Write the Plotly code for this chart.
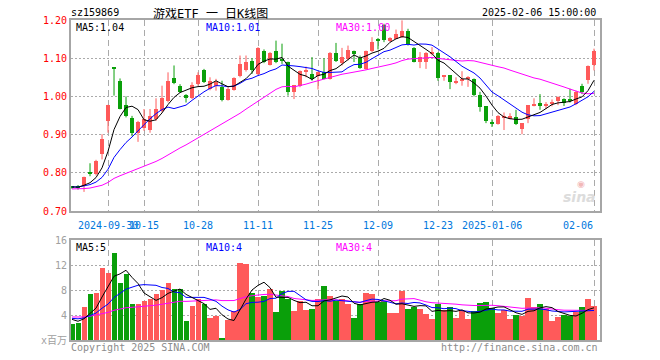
import math
import plotly.graph_objects as go

# ---------------- data ----------------
dates = [
    "2024-09-20", "2024-09-23", "2024-09-24", "2024-09-25", "2024-09-26", "2024-09-27", "2024-09-30",
    "2024-10-08", "2024-10-09", "2024-10-10", "2024-10-11", "2024-10-14", "2024-10-15", "2024-10-16",
    "2024-10-17", "2024-10-18", "2024-10-21", "2024-10-22", "2024-10-23", "2024-10-24", "2024-10-25",
    "2024-10-28", "2024-10-29", "2024-10-30", "2024-10-31", "2024-11-01", "2024-11-04", "2024-11-05",
    "2024-11-06", "2024-11-07", "2024-11-08", "2024-11-11", "2024-11-12", "2024-11-13", "2024-11-14",
    "2024-11-15", "2024-11-18", "2024-11-19", "2024-11-20", "2024-11-21", "2024-11-22", "2024-11-25",
    "2024-11-26", "2024-11-27", "2024-11-28", "2024-11-29", "2024-12-02", "2024-12-03", "2024-12-04",
    "2024-12-05", "2024-12-06", "2024-12-09", "2024-12-10", "2024-12-11", "2024-12-12", "2024-12-13",
    "2024-12-16", "2024-12-17", "2024-12-18", "2024-12-19", "2024-12-20", "2024-12-23", "2024-12-24",
    "2024-12-25", "2024-12-26", "2024-12-27", "2024-12-30", "2024-12-31", "2025-01-02", "2025-01-03",
    "2025-01-06", "2025-01-07", "2025-01-08", "2025-01-09", "2025-01-10", "2025-01-13", "2025-01-14",
    "2025-01-15", "2025-01-16", "2025-01-17", "2025-01-20", "2025-01-21", "2025-01-22", "2025-01-23",
    "2025-01-24", "2025-01-27", "2025-02-05", "2025-02-06",
]

opens = [
    0.762, 0.763, 0.765, 0.800, 0.798, 0.848, 0.936, 1.076, 1.041, 0.977, 0.943, 0.903, 0.918, 0.912,
    0.940, 0.962, 0.989, 1.048, 1.028, 1.003, 0.997, 1.032, 1.069, 1.019, 1.028, 1.024, 0.990, 1.017,
    1.054, 1.068, 1.093, 1.059, 1.118, 1.082, 1.118, 1.098, 1.089, 1.011, 1.026, 1.064, 1.059, 1.054,
    1.063, 1.046, 1.114, 1.088, 1.098, 1.118, 1.101, 1.072, 1.118, 1.151, 1.186, 1.144, 1.151, 1.155,
    1.171, 1.126, 1.091, 1.091, 1.110, 1.114, 1.050, 1.056, 1.037, 1.040, 1.046, 1.046, 1.003, 0.974,
    0.932, 0.927, 0.944, 0.942, 0.945, 0.914, 0.940, 0.977, 0.982, 0.976, 0.981, 0.988, 0.993, 0.993,
    0.980, 1.026, 1.043, 1.081,
]
highs = [
    0.764, 0.768, 0.790, 0.825, 0.834, 0.901, 0.978, 1.076, 1.047, 1.000, 0.949, 0.936, 0.967, 0.967,
    0.995, 1.028, 1.063, 1.081, 1.032, 1.006, 1.037, 1.063, 1.072, 1.050, 1.046, 1.041, 1.024, 1.050,
    1.107, 1.107, 1.100, 1.129, 1.123, 1.116, 1.146, 1.138, 1.091, 1.030, 1.068, 1.078, 1.103, 1.065,
    1.100, 1.116, 1.140, 1.127, 1.133, 1.120, 1.107, 1.120, 1.155, 1.153, 1.190, 1.155, 1.175, 1.199,
    1.177, 1.129, 1.116, 1.116, 1.129, 1.116, 1.056, 1.056, 1.050, 1.066, 1.053, 1.047, 1.012, 0.974,
    0.940, 0.951, 0.958, 0.956, 0.965, 0.930, 0.977, 0.995, 1.006, 0.985, 0.992, 1.000, 0.995, 1.020,
    1.015, 1.033, 1.081, 1.125,
]
lows = [
    0.758, 0.756, 0.750, 0.791, 0.793, 0.835, 0.905, 1.002, 0.966, 0.945, 0.896, 0.881, 0.910, 0.905,
    0.936, 0.958, 0.984, 1.032, 1.009, 0.984, 0.993, 1.028, 1.035, 1.016, 1.015, 0.987, 0.989, 1.015,
    1.050, 1.065, 1.059, 1.056, 1.087, 1.081, 1.087, 1.085, 1.002, 0.993, 1.024, 1.050, 1.041, 1.018,
    1.045, 1.044, 1.090, 1.081, 1.094, 1.090, 1.072, 1.070, 1.116, 1.123, 1.142, 1.142, 1.151, 1.153,
    1.133, 1.089, 1.074, 1.072, 1.107, 1.041, 1.041, 1.019, 1.032, 1.028, 1.025, 1.000, 0.960, 0.930,
    0.920, 0.926, 0.912, 0.940, 0.925, 0.901, 0.930, 0.974, 0.965, 0.967, 0.974, 0.977, 0.975, 0.984,
    0.977, 1.006, 1.033, 1.068,
]
closes = [
    0.761, 0.761, 0.788, 0.797, 0.831, 0.888, 0.977, 1.073, 0.968, 0.949, 0.905, 0.932, 0.940, 0.949,
    0.968, 0.995, 1.041, 1.034, 1.012, 0.996, 1.030, 1.056, 1.039, 1.040, 1.039, 0.990, 1.019, 1.047,
    1.085, 1.091, 1.070, 1.126, 1.089, 1.114, 1.089, 1.092, 1.012, 1.030, 1.066, 1.067, 1.046, 1.065,
    1.046, 1.114, 1.092, 1.104, 1.122, 1.110, 1.075, 1.118, 1.142, 1.147, 1.147, 1.154, 1.163, 1.171,
    1.136, 1.091, 1.103, 1.114, 1.116, 1.048, 1.056, 1.039, 1.040, 1.046, 1.047, 1.004, 0.971, 0.936,
    0.928, 0.949, 0.946, 0.949, 0.927, 0.930, 0.977, 0.979, 0.977, 0.978, 0.983, 0.998, 0.984, 0.990,
    1.011, 1.011, 1.079, 1.120,
]
# volume, millions of shares
volumes = [
    2.6, 2.7, 5.3, 7.3, 7.6, 11.5, 10.7, 13.9, 9.2, 10.5, 5.8, 5.8, 6.3, 6.5, 7.3, 8.0, 9.2, 8.1, 8.2,
    3.0, 5.5, 6.6, 5.8, 3.6, 3.9, 0.3, 3.2, 4.6, 12.4, 12.2, 7.6, 6.9, 7.1, 8.1, 4.5, 7.8, 6.6, 4.7,
    6.3, 4.8, 5.0, 6.6, 8.6, 7.1, 6.3, 6.6, 5.8, 3.6, 5.8, 7.6, 7.4, 6.1, 6.3, 4.4, 4.4, 7.8, 5.0,
    5.3, 5.0, 4.2, 3.4, 5.8, 4.8, 5.3, 3.6, 4.6, 3.4, 4.7, 6.0, 6.1, 5.2, 4.4, 4.8, 3.4, 4.0, 3.9,
    6.8, 5.3, 5.7, 5.0, 3.1, 3.7, 4.0, 3.9, 4.5, 5.3, 6.6, 5.5,
]
# closes / volumes of the 29 sessions before the first visible candle (for the moving averages)
prev_closes = [
    0.762, 0.758, 0.755, 0.752, 0.750, 0.753, 0.757, 0.760, 0.758, 0.754, 0.751, 0.749, 0.752, 0.756,
    0.759, 0.757, 0.754, 0.752, 0.756, 0.757, 0.760, 0.762, 0.763, 0.765, 0.765, 0.764, 0.763, 0.764,
    0.763,
]
prev_volumes = [
    3.5, 4.2, 3.9, 3.3, 3.6, 4.4, 3.8, 3.4, 3.9, 4.1, 3.7, 3.5, 3.9, 4.3, 3.6, 3.4, 3.8, 4.0, 3.7, 3.8,
    3.4, 3.9, 3.6, 3.5, 3.7, 4.2, 3.3, 3.1, 3.3,
]
tick_dates = ["2024-09-30", "2024-10-15", "2024-10-28", "2024-11-11", "2024-11-25",
              "2024-12-09", "2024-12-23", "2025-01-06", "2025-02-06"]
tick_labels = ["2024-09-30", "10-15", "10-28", "11-11", "11-25", "12-09", "12-23", "2025-01-06", "02-06"]
price_ticks = [0.70, 0.80, 0.90, 1.00, 1.10, 1.20]
vol_ticks = [0, 4, 8, 12, 16]
vol_tick_labels = ["x百万", "4", "8", "12", "16"]

# ---------------- styling ----------------
# the page body keeps the browser's 8px margin, so the figure is drawn 8px in
OFF = 8
W, H = 660 - OFF, 360 - OFF
RED = "#ff5a5a"
GREEN = "#0a9f0a"
GRID = "#aaaaaa"
FRAME = "#a6a6a6"
MONO = "DejaVu Sans Mono, Liberation Mono, monospace"
CJK = "DejaVu Sans Mono, Noto Sans CJK SC, sans-serif"

def px(x):
    # screen pixel -> paper fraction
    return (x - OFF) / W

def py(y):
    return 1 - (y - OFF) / H

def moving_average(values, prev, n):
    full = prev + values
    off = len(prev)
    return [sum(full[off + i - n + 1: off + i + 1]) / n for i in range(len(values))]

def floor_to(v, d):
    f = 10 ** d
    return math.floor(v * f + 1e-9) / f

n = len(dates)
xs = list(range(n))
is_up = [c >= o for o, c in zip(opens, closes)]
colors = [RED if u else GREEN for u in is_up]

ma5 = moving_average(closes, prev_closes, 5)
ma10 = moving_average(closes, prev_closes, 10)
ma30 = moving_average(closes, prev_closes, 30)
vma5 = moving_average(volumes, prev_volumes, 5)
vma10 = moving_average(volumes, prev_volumes, 10)
vma30 = moving_average(volumes, prev_volumes, 30)

fig = go.Figure()

# wicks
for col, flag in ((RED, True), (GREEN, False)):
    wx, wy = [], []
    for i in range(n):
        if is_up[i] == flag:
            wx += [i, i, None]
            wy += [lows[i], highs[i], None]
    fig.add_trace(go.Scatter(x=wx, y=wy, mode="lines", line=dict(color=col, width=1),
                             hoverinfo="skip", showlegend=False, xaxis="x", yaxis="y"))

# candle bodies
body_base = [min(o, c) for o, c in zip(opens, closes)]
body_len = [max(abs(c - o), 0.0028) for o, c in zip(opens, closes)]
fig.add_trace(go.Bar(x=xs, y=body_len, base=body_base, width=0.8,
                     marker=dict(color=colors, line=dict(width=0)),
                     showlegend=False, xaxis="x", yaxis="y"))

# price MAs
for vals, col in ((ma30, "#ff00ff"), (ma10, "#0000ff"), (ma5, "#000000")):
    fig.add_trace(go.Scatter(x=xs, y=vals, mode="lines", line=dict(color=col, width=1),
                             hoverinfo="skip", showlegend=False, xaxis="x", yaxis="y"))

# volume bars
fig.add_trace(go.Bar(x=xs, y=volumes, width=0.84, marker=dict(color=colors, line=dict(width=0)),
                     showlegend=False, xaxis="x2", yaxis="y2"))
for vals, col in ((vma30, "#ff00ff"), (vma10, "#0000ff"), (vma5, "#000000")):
    fig.add_trace(go.Scatter(x=xs, y=vals, mode="lines", line=dict(color=col, width=1),
                             hoverinfo="skip", showlegend=False, xaxis="x2", yaxis="y2"))

tick_idx = [dates.index(d) for d in tick_dates]
xrange_ = [-0.17, 88.0]
xdom = [px(71), px(600)]

common_x = dict(range=xrange_, domain=xdom, tickvals=tick_idx, showticklabels=False, ticks="",
                showgrid=True, gridcolor=GRID, griddash="6px,4px", gridwidth=1,
                showline=True, linecolor=FRAME, linewidth=2, mirror=True, zeroline=False,
                fixedrange=True, automargin=False)

fig.update_layout(
    width=W, height=H, margin=dict(l=0, r=0, t=0, b=0, autoexpand=False),
    paper_bgcolor="white", plot_bgcolor="white",
    barmode="overlay", bargap=0, showlegend=False,
    xaxis=dict(anchor="y", **common_x),
    xaxis2=dict(anchor="y2", **common_x),
    yaxis=dict(domain=[py(211), py(20)], range=[0.70, 1.20], tickvals=price_ticks,
               ticktext=[f"{v:.2f}" for v in price_ticks],
               tickfont=dict(family=MONO, size=10, color="#ff0000"), ticks="",
               showgrid=True, gridcolor=GRID, griddash="2px,2px", gridwidth=1,
               showline=True, linecolor=FRAME, linewidth=2, mirror=True, zeroline=False,
               automargin=False, fixedrange=True),
    yaxis2=dict(domain=[py(340), py(240)], range=[0, 16], tickvals=vol_ticks,
                ticktext=vol_tick_labels,
                tickfont=dict(family=CJK, size=10, color="#a0a0a0"), ticks="",
                showgrid=True, gridcolor=GRID, griddash="2px,2px", gridwidth=1,
                showline=True, linecolor=FRAME, linewidth=2, mirror=True, zeroline=False,
                automargin=False, fixedrange=True),
)

ann = []

def text(x, y, s, color="#000000", size=10, family=MONO, xanchor="left", yanchor="middle"):
    ann.append(dict(x=px(x), y=py(y), xref="paper", yref="paper", text=s, showarrow=False,
                    xanchor=xanchor, yanchor=yanchor,
                    font=dict(family=family, size=size, color=color)))

# header
text(69, 13, "sz159869", size=10)
text(210, 13.5, "游戏ETF 一 日K线图", size=12, family=CJK, xanchor="center")
text(598, 13, "2025-02-06 15:00:00", size=10, xanchor="right")

# MA legends
text(74, 27.5, f"MA5:{floor_to(ma5[-1], 2):.2f}", color="#000000")
text(204, 27.5, f"MA10:{floor_to(ma10[-1], 2):.2f}", color="#0000ff")
text(334, 27.5, f"MA30:{floor_to(ma30[-1], 2):.2f}", color="#ff00ff")
text(74, 247, f"MA5:{int(math.floor(vma5[-1]))}", color="#000000")
text(204, 247, f"MA10:{int(math.floor(vma10[-1]))}", color="#0000ff")
text(334, 247, f"MA30:{int(math.floor(vma30[-1]))}", color="#ff00ff")

# date labels
for k, (idx, lab) in enumerate(zip(tick_idx, tick_labels)):
    xpix = 72 + 6 * idx
    if k == len(tick_idx) - 1:
        text(595, 225, lab, color="#0077dd", xanchor="right")
    else:
        text(xpix, 225, lab, color="#0077dd", xanchor="center")

# footer
text(69, 347, "Copyright 2025 SINA.COM", color="#8c8c8c")
text(600, 347, "http://finance.sina.com.cn", color="#8c8c8c", xanchor="right")

# watermark
ann.append(dict(x=px(598), y=py(197), xref="paper", yref="paper", text="<b><i>sina</i></b>",
                showarrow=False, xanchor="right", yanchor="middle",
                font=dict(family="DejaVu Sans, sans-serif", size=14, color="#dcdcdc")))
ann.append(dict(x=px(581), y=py(184), xref="paper", yref="paper", text="◉",
                showarrow=False, xanchor="center", yanchor="middle",
                font=dict(family="DejaVu Sans, sans-serif", size=9, color="#f2b8b8")))

fig.update_layout(annotations=ann)

fig.write_html("out.html")
